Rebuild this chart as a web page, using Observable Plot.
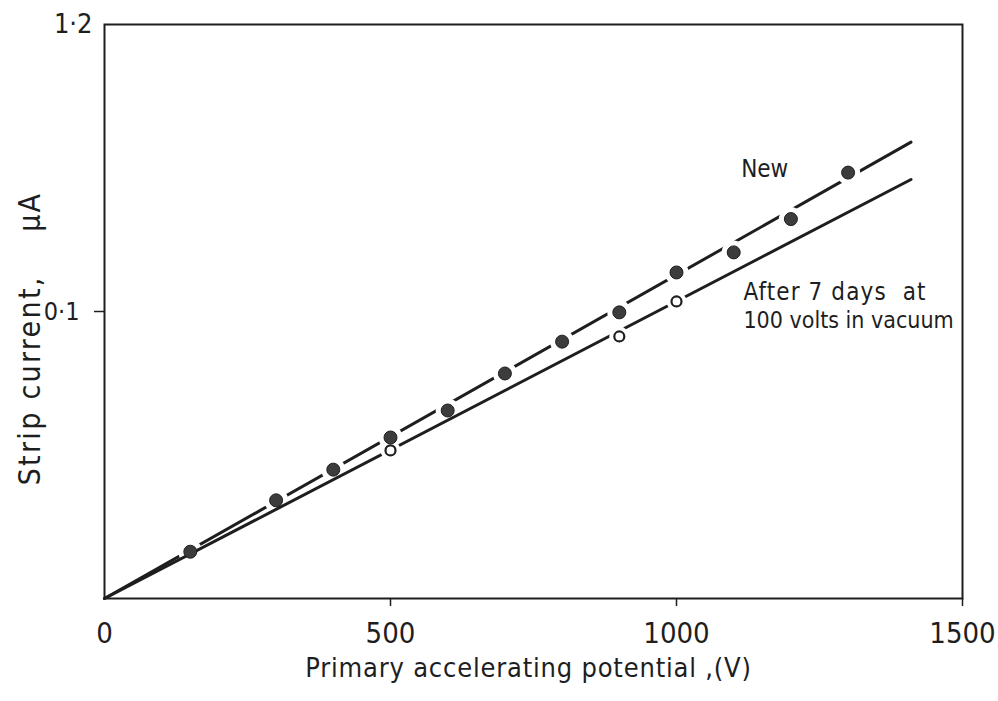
<!DOCTYPE html>
<html>
<head>
<meta charset="utf-8">
<script src="https://cdn.jsdelivr.net/npm/d3@7"></script>
<script src="https://cdn.jsdelivr.net/npm/@observablehq/plot@0.6"></script>
<style>
  html, body { margin: 0; padding: 0; background: #fff; }
  svg { display: block; }
</style>
</head>
<body>
<div id="chart"></div>
<script>
// Primary accelerating potential (V)
const newX = [150, 300, 400, 500, 600, 700, 800, 900, 1000, 1100, 1200, 1300];
// Strip current (µA) – new strip
const newY = [0.0163, 0.0342, 0.0449, 0.0561, 0.0655, 0.0784, 0.0895, 0.0997, 0.1136, 0.1206, 0.1322, 0.1484];
// After 7 days at 100 volts in vacuum
const agedX = [500, 900, 1000];
const agedY = [0.0516, 0.0913, 0.1035];
// Fitted straight lines (endpoints)
const fitX = [0, 1410];
const newFitY = [0, 0.159];
const agedFitY = [0, 0.146];

const xTickValues = [0, 500, 1000, 1500];
const yTickValues = [0.1, 0.2];
const yTickLabels = ["0·1", "1·2"];

const xLabel = "Primary accelerating potential ,(V)";
const yLabel = "Strip current,    µA";
const seriesLabels = ["New", "After 7 days  at", "100 volts in vacuum"];

const newPts = newX.map((x, i) => ({x, y: newY[i]}));
const agedPts = agedX.map((x, i) => ({x, y: agedY[i]}));
const newLine = fitX.map((x, i) => ({x, y: newFitY[i]}));
const agedLine = fitX.map((x, i) => ({x, y: agedFitY[i]}));

const ink = "#1e1e1e";
const font = "'DejaVu Sans Condensed', 'DejaVu Sans', sans-serif";
const yFmt = d => yTickLabels[yTickValues.indexOf(d)];
const xFmt = d => String(d);

const chart = Plot.plot({
  width: 998,
  height: 701,
  marginLeft: 104,
  marginRight: 36,
  marginTop: 24,
  marginBottom: 103,
  style: {fontFamily: font, color: ink, background: "#fff"},
  x: {domain: [0, 1500]},
  y: {domain: [0, 0.2]},
  marks: [
    Plot.frame({stroke: ink, strokeWidth: 2}),
    Plot.axisX({ticks: xTickValues.slice(1), tickSize: 8, tickPadding: 16, fontSize: 29, tickFormat: xFmt, stroke: ink, strokeWidth: 1.5, label: null}),
    Plot.axisX({ticks: xTickValues.slice(0, 1), tickSize: 0, tickPadding: 24, fontSize: 29, tickFormat: xFmt, label: null}),
    Plot.axisY({ticks: yTickValues.slice(0, 1), tickSize: 10, tickPadding: 15, fontSize: 25, tickFormat: yFmt, stroke: ink, strokeWidth: 1.5, label: null}),
    Plot.axisY({ticks: yTickValues.slice(1), tickSize: 0, tickPadding: 12, fontSize: 27, tickFormat: yFmt, label: null}),
    Plot.line(newLine, {x: "x", y: "y", stroke: ink, strokeWidth: 3}),
    Plot.dot(newPts, {x: "x", y: "y", r: 12, fill: "#fff", stroke: "none"}),
    Plot.line(agedLine, {x: "x", y: "y", stroke: ink, strokeWidth: 3}),
    Plot.dot(agedPts, {x: "x", y: "y", r: 10, fill: "#fff", stroke: "none"}),
    Plot.dot(newPts, {x: "x", y: "y", r: 6.5, fill: "#3c3c3c", stroke: ink, strokeWidth: 1}),
    Plot.dot(agedPts, {x: "x", y: "y", r: 5, fill: "#fff", stroke: ink, strokeWidth: 2.2}),
    Plot.text([seriesLabels[0]], {x: 1113, y: 0.1495, text: d => d, textAnchor: "start", fontSize: 24, fill: ink}),
    Plot.text([seriesLabels[1]], {x: 1117, y: 0.1066, text: d => d, textAnchor: "start", lineAnchor: "middle", fontSize: 24, fill: ink}),
    Plot.text([seriesLabels[2]], {x: 1117, y: 0.0969, text: d => d, textAnchor: "start", lineAnchor: "middle", fontSize: 23, fill: ink}),
    Plot.text([xLabel], {frameAnchor: "bottom", dx: -5, dy: 78, text: d => d, fontSize: 27, fill: ink}),
    Plot.text([yLabel], {frameAnchor: "left", textAnchor: "middle", dx: -74, dy: 27, rotate: -90, text: d => d, fontSize: 30, fill: ink})
  ]
});

// letter spacing (not a Plot option) applied to the rendered label texts
const spacing = new Map([[xLabel, "0.8px"], [yLabel, "2.3px"], [seriesLabels[1], "1.1px"]]);
d3.select(chart).selectAll("text").each(function () {
  const s = spacing.get(this.textContent);
  if (s) this.setAttribute("letter-spacing", s);
});
document.getElementById("chart").appendChild(chart);
</script>
</body>
</html>
